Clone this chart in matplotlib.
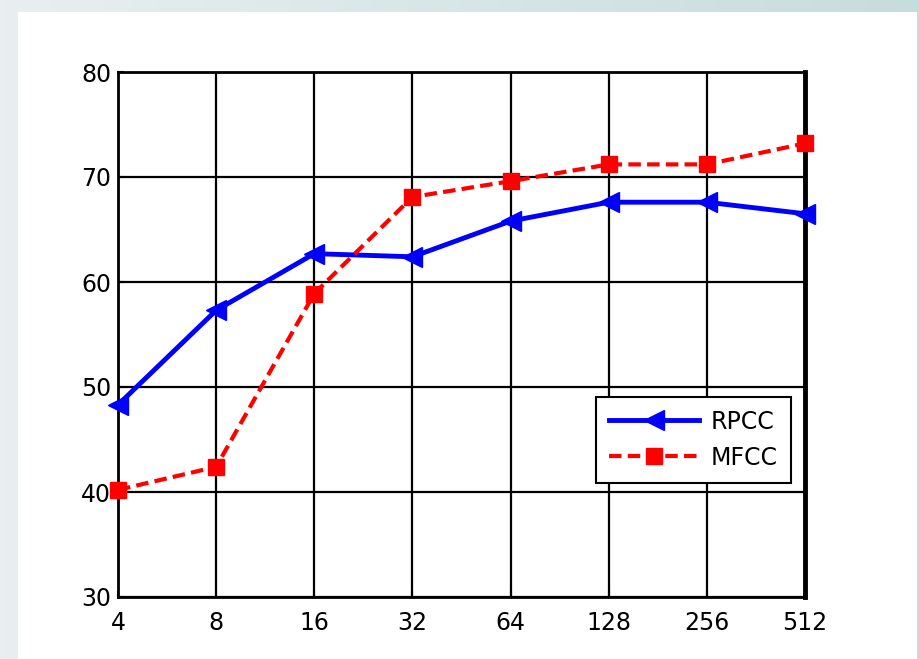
import numpy as np
import matplotlib
matplotlib.use('Agg')
import matplotlib.pyplot as plt
from matplotlib.patches import Rectangle

# codebook size vs. recognition rate
sizes = [4, 8, 16, 32, 64, 128, 256, 512]
size_labels = ['4', '8', '16', '32', '64', '128', '256', '512']
rpcc = [48.3, 57.3, 62.7, 62.4, 65.8, 67.6, 67.6, 66.5]
mfcc = [40.2, 42.4, 58.9, 68.1, 69.6, 71.2, 71.2, 73.2]
yticks = [30, 40, 50, 60, 70, 80]

plt.rcParams['font.family'] = ['DejaVu Sans']

fig = plt.figure(figsize=(9.19, 6.59), dpi=100)

# slide-like frame behind the chart
bg = fig.add_axes([0, 0, 1, 1], zorder=-10)
grad = np.linspace(0, 1, 256)[None, :]
cmap = matplotlib.colors.LinearSegmentedColormap.from_list('frame', ['#e9eff0', '#c6dddd'])
bg.imshow(grad, aspect='auto', cmap=cmap, extent=[0, 1, 0, 1])
bg.add_patch(Rectangle((18 / 919, 0), (917 - 18) / 919, (659 - 12) / 659,
                       facecolor='white', edgecolor='none'))
bg.set_xlim(0, 1)
bg.set_ylim(0, 1)
bg.axis('off')

ax = fig.add_axes([118 / 919, 1 - 597 / 659, (805 - 118) / 919, (597 - 72) / 659])
ax.set_facecolor('white')

ax.plot(sizes, rpcc, color='#0000ff', lw=3.5, marker='<', ms=15,
        label='RPCC', clip_on=False, zorder=3)
ax.plot(sizes, mfcc, color='#ff0000', lw=3, ls=(0, (3, 1.5)), marker='s', ms=12,
        label='MFCC', clip_on=False, zorder=4)

ax.set_xscale('log', base=2)
ax.set_xlim(4, 512)
ax.set_ylim(30, 80)
ax.set_xticks(sizes)
ax.set_xticklabels(size_labels)
ax.xaxis.set_minor_locator(matplotlib.ticker.NullLocator())
ax.set_yticks(yticks)
ax.grid(True, color='black', lw=1.6)
ax.tick_params(direction='in', length=4, width=1.5, labelsize=17, colors='black')
ax.tick_params(axis='x', pad=10)
ax.tick_params(axis='y', pad=5)
for s in ax.spines.values():
    s.set_linewidth(2)
ax.spines['right'].set_linewidth(3.5)

leg = ax.legend(loc='lower right', bbox_to_anchor=(0.979, 0.218), fontsize=17,
                frameon=True, fancybox=False, edgecolor='black', framealpha=1,
                handlelength=3.8, borderpad=0.55, labelspacing=0.5, handletextpad=0.5,
                borderaxespad=0.0)
leg.get_frame().set_linewidth(1.5)

fig.savefig('out.png', dpi=100)
